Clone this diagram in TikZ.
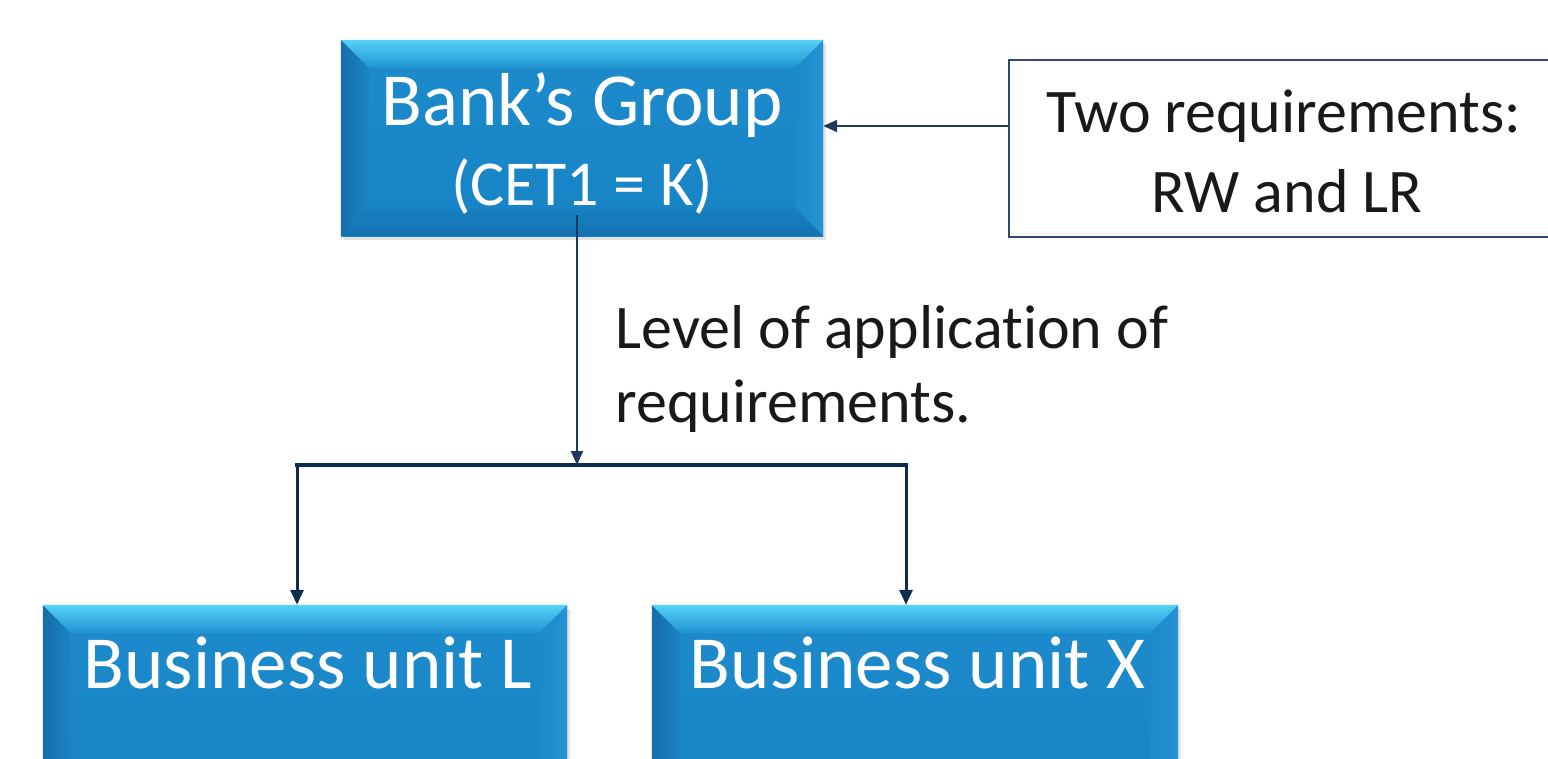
\documentclass[tikz,border=0pt]{standalone}
\usepackage{fontspec}
\setmainfont{Carlito}[Ligatures={NoCommon}]
\usetikzlibrary{arrows.meta,calc,shadows}
\definecolor{faceT}{HTML}{1D8BCC}
\definecolor{faceB}{HTML}{1683C4}
\definecolor{bevT}{HTML}{55D2F8}
\definecolor{bevTb}{HTML}{2093D2}
\definecolor{bevLo}{HTML}{166EAB}
\definecolor{bevLi}{HTML}{1A84C4}
\definecolor{bevRi}{HTML}{1D89C9}
\definecolor{bevRo}{HTML}{2394D4}
\definecolor{bevBi}{HTML}{1680C0}
\definecolor{bevBo}{HTML}{1472B2}
\definecolor{linec}{HTML}{1E3A5A}
\definecolor{barc}{HTML}{0E2D4E}
\definecolor{reqc}{HTML}{2E4A66}
\newcommand{\bevelbox}[2]{%
  \shade[left color=bevLo, right color=bevLi] (#1.north west) -- (#1.south west) -- ($(#1.south west)+(#2,-#2)$) -- ($(#1.north west)+(#2,#2)$) -- cycle;
  \shade[left color=bevRi, right color=bevRo] (#1.north east) -- (#1.south east) -- ($(#1.south east)+(-#2,-#2)$) -- ($(#1.north east)+(-#2,#2)$) -- cycle;
  \shade[top color=bevBi, bottom color=bevBo] (#1.south west) -- (#1.south east) -- ($(#1.south east)+(-#2,-#2)$) -- ($(#1.south west)+(#2,-#2)$) -- cycle;
  \shade[top color=bevT, bottom color=bevTb] (#1.north west) -- (#1.north east) -- ($(#1.north east)+(-#2,#2)$) -- ($(#1.north west)+(#2,#2)$) -- cycle;
}
\tikzset{
  bluebox/.style={rectangle, inner sep=0pt, draw=none, top color=faceT, bottom color=faceB,
    drop shadow={shadow xshift=3pt, shadow yshift=-4pt, opacity=.22}},
  reqbox/.style={rectangle, inner sep=0pt, draw=reqc, line width=2pt, fill=white},
  bigtxt/.style={anchor=base, text=white, font=\fontsize{75}{90}\selectfont},
  midtxt/.style={anchor=base, text=white, font=\fontsize{64}{80}\selectfont},
  blktxt/.style={text=black!90, font=\fontsize{62}{80}\selectfont},
  conn/.style={draw=linec, line width=2pt, -{Triangle[length=14pt,width=12pt]}},
  downarr/.style={draw=barc, line width=3pt, -{Triangle[length=15pt,width=13pt]}},
  barline/.style={draw=barc, line width=4.5pt, line cap=rect}
}
\begin{document}
\begin{tikzpicture}[x=1pt,y=-1pt]
\useasboundingbox (0,0) rectangle (1548,758);
\fill[white] (0,0) rectangle (1548,758);
% boxes
\node[bluebox, minimum width=482pt, minimum height=196pt] (bank) at (582,138) {};
\bevelbox{bank}{28}
\node[bluebox, minimum width=524pt, minimum height=196pt] (bl) at (305,703) {};
\bevelbox{bl}{28}
\node[bluebox, minimum width=526pt, minimum height=196pt] (bx) at (915,703) {};
\bevelbox{bx}{28}
\node[reqbox, minimum width=551pt, minimum height=177pt] (req) at (1284.5,148.5) {};
% texts
\node[bigtxt] (bankt1) at (582,125) {Bank’s Group};
\node[midtxt] (bankt2) at (582,205) {(CET1 = K)};
\node[bigtxt] (blt) at (308,688) {Business unit L};
\node[bigtxt] (bxt) at (918,688) {Business unit X};
\node[blktxt, anchor=base] (reqt1) at (1284,132) {Two requirements:};
\node[blktxt, anchor=base] (reqt2) at (1287,212) {RW and LR};
\node[blktxt, anchor=base west] (lvl1) at (612,348) {Level of application of};
\node[blktxt, anchor=base west] (lvl2) at (612,422) {requirements.};
% connectors
\coordinate (ay) at (0,126);
\draw[conn] (req.west |- ay) -- (bank.east |- ay);
\coordinate (vtop) at (577,215);
\coordinate (junc) at (577,465);
\coordinate (jl) at (297,465);
\coordinate (jr) at (906,465);
\draw[barline] (jl) -- (jr);
\draw[conn] (vtop) -- (junc);
\draw[downarr] (jl) -- (jl |- bl.north);
\draw[downarr] (jr) -- (jr |- bx.north);
\end{tikzpicture}
\end{document}
